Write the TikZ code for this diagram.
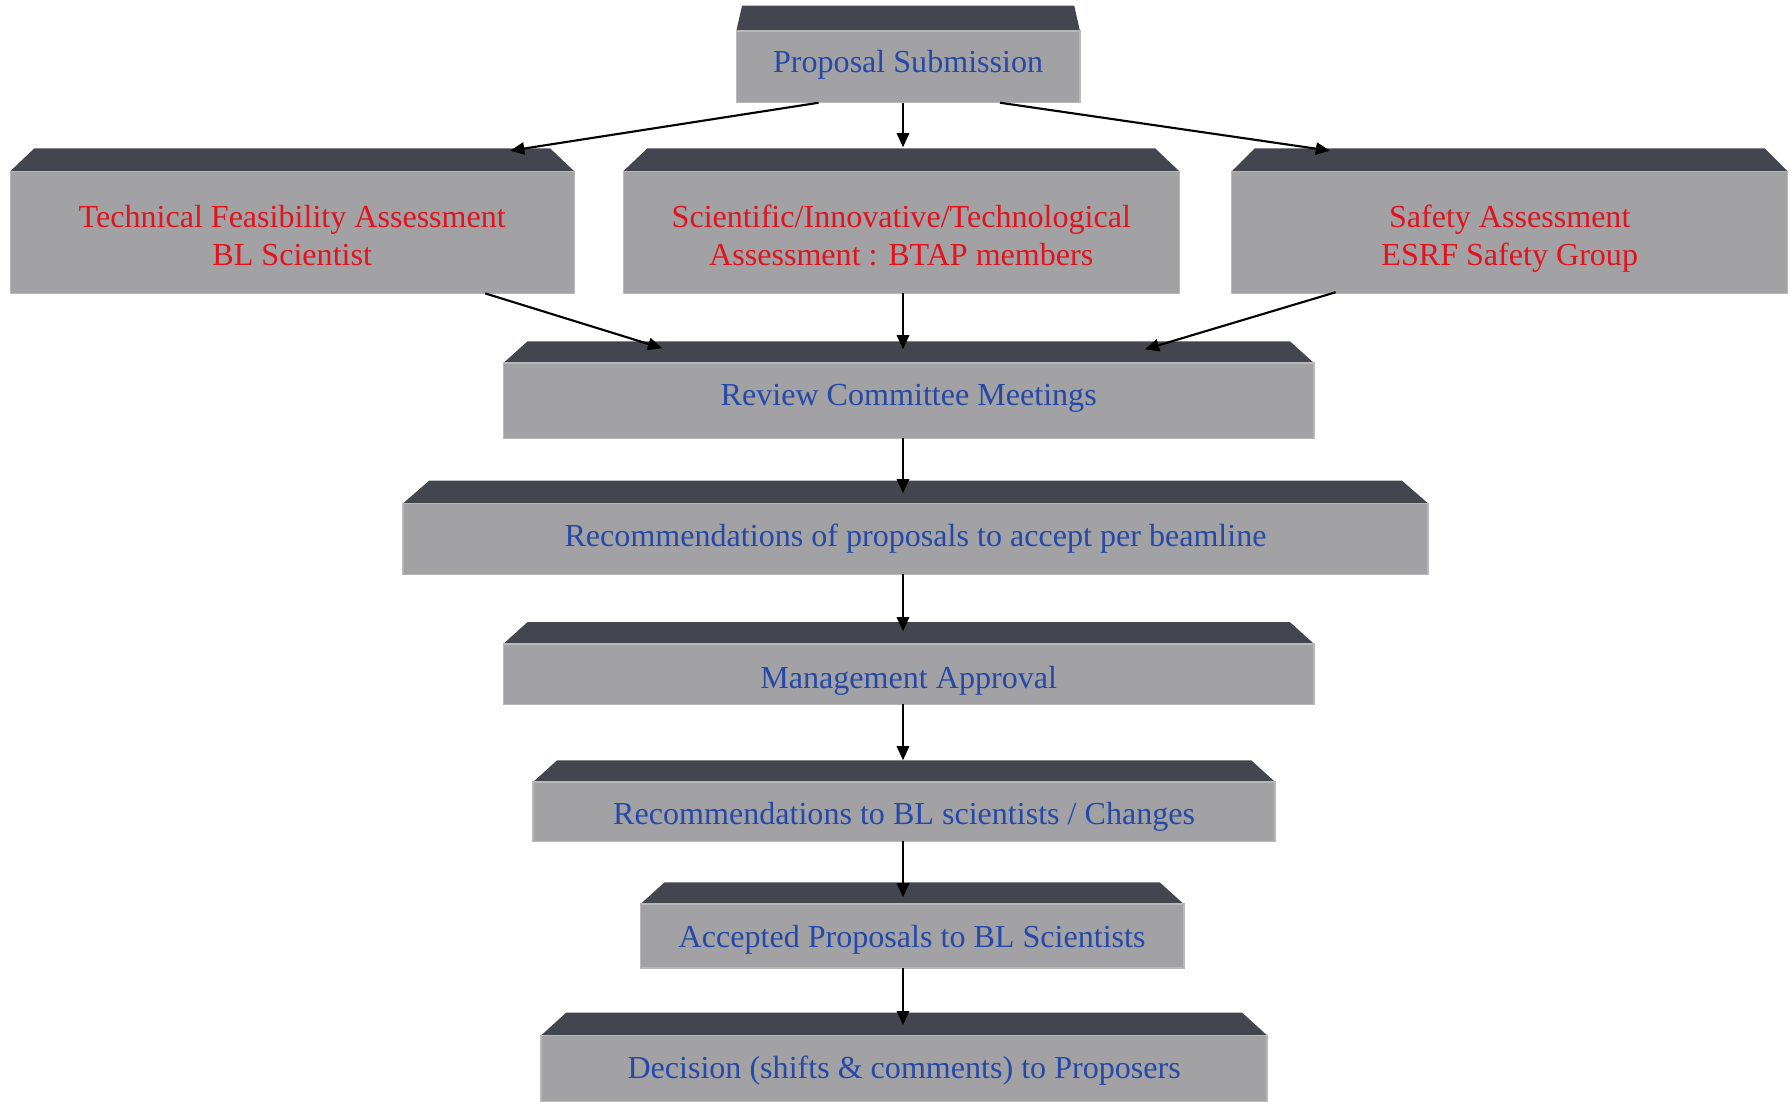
\documentclass[tikz,border=0pt]{standalone}
\usepackage{fontspec}
\setmainfont{Liberation Serif}
\usetikzlibrary{arrows.meta,calc}
\definecolor{facegray}{RGB}{162,162,164}
\definecolor{topdark}{RGB}{68,70,79}
\definecolor{edgegray}{RGB}{184,184,186}
\definecolor{txtblue}{RGB}{38,72,168}
\definecolor{txtred}{RGB}{226,18,30}
\tikzset{
  face/.style={fill=facegray, draw=edgegray, line width=0.8pt, inner sep=0pt, outer sep=0pt,
    align=center, font=\fontsize{18.2}{21.4}\selectfont},
  bluetxt/.style={text=txtblue},
  redtxt/.style={text=txtred},
  conn/.style={-{Triangle[length=8pt,width=7pt]}, line width=1.2pt, black},
}
\newcommand\tops[1]{\rule{0pt}{#1}}
\newcommand\bots[1]{\rule[-#1]{0pt}{0pt}}
% name, x1, x2, yband, yface, ybottom, inset, text, style
\newcommand\slab[9]{%
  \fill[topdark] (#2,#5) -- ({#2+#7},#4) -- ({#3-#7},#4) -- (#3,#5) -- cycle;
  \coordinate (#1t) at ({(#2+#3)/2},#4);
  \node[face,#9,minimum width={(#3-#2)*0.6477pt},minimum height={(#6-#5)*0.6477pt}]
    (#1) at ({(#2+#3)/2},{(#5+#6)/2}) {#8};
}
\begin{document}
\begin{tikzpicture}[x=0.6477pt,y=-0.6477pt]
\useasboundingbox (0,0) rectangle (1568,965);
\coordinate (spine) at (791,0);
\slab{prop}{645}{946}{5}{27}{90}{5}{\tops{15pt}Proposal Submission\bots{9pt}}{bluetxt}
\slab{tech}{9}{503}{130}{150}{257}{21}{\tops{22.8pt}Technical Feasibility Assessment\strut\\\strut BL Scientist}{redtxt}
\slab{sci}{546}{1033}{130}{150}{257}{21}{\tops{22.8pt}Scientific/Innovative/Technological\strut\\\strut Assessment : BTAP members}{redtxt}
\slab{saf}{1079}{1566}{130}{150}{257}{20}{\tops{22.8pt}Safety Assessment\strut\\\strut ESRF Safety Group}{redtxt}
\slab{rev}{441}{1151}{299}{318}{384}{21}{\tops{15pt}Review Committee Meetings\bots{9pt}}{bluetxt}
\slab{recs}{353}{1251}{421}{441}{503}{23}{\tops{15pt}Recommendations of proposals to accept per beamline\bots{6.4pt}}{bluetxt}
\slab{mgmt}{441}{1151}{545}{564}{617}{21}{\tops{22.8pt}Management Approval\bots{6.4pt}}{bluetxt}
\slab{recbl}{467}{1117}{666}{685}{737}{21}{\tops{21.4pt}Recommendations to BL scientists / Changes\bots{6.4pt}}{bluetxt}
\slab{acc}{561}{1037}{773}{792}{848}{21}{\tops{18.8pt}Accepted Proposals to BL Scientists\bots{6.4pt}}{bluetxt}
\slab{dec}{474}{1110}{887}{907}{965}{22}{\tops{17.6pt}Decision (shifts \& comments) to Proposers\bots{6.4pt}}{bluetxt}

\draw[conn] ($(prop.south)+(-78.5,0)$) -- ($(techt)+(191,2)$);
\draw[conn] (prop.south -| spine) -- ($(scit -| spine)+(0,-1)$);
\draw[conn] ($(prop.south)+(80.5,0)$) -- ($(saft)+(-157.5,2)$);
\draw[conn] ($(tech.south)+(169,0)$) -- ($(revt)+(-216,6)$);
\draw[conn] (sci.south -| spine) -- ($(revt -| spine)+(0,7)$);
\draw[conn] ($(saf.south)+(-152.5,-1)$) -- ($(revt)+(207,7)$);
\draw[conn] (rev.south -| spine) -- ($(recst -| spine)+(0,11)$);
\draw[conn] (recs.south -| spine) -- ($(mgmtt -| spine)+(0,8)$);
\draw[conn] (mgmt.south -| spine) -- ($(recblt -| spine)+(0,0)$);
\draw[conn] (recbl.south -| spine) -- ($(acct -| spine)+(0,13)$);
\draw[conn] (acc.south -| spine) -- ($(dect -| spine)+(0,11)$);
\end{tikzpicture}
\end{document}
